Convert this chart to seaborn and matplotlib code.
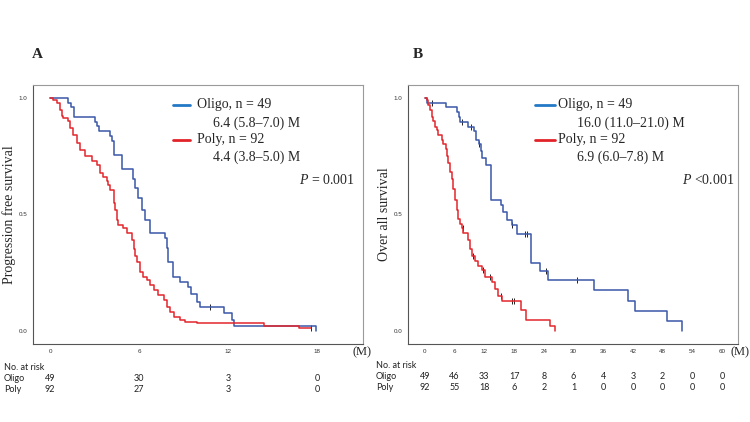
import numpy as np
import matplotlib
matplotlib.use("Agg")
import matplotlib.pyplot as plt
import matplotlib.transforms as mtransforms
import seaborn as sns

# Panel A: progression free survival (months, survival fraction)
pfs_oligo_t = [0, 1.2, 1.4, 1.6, 3.0, 3.15, 3.3, 4.05, 4.15, 4.3, 4.85, 5.6, 5.75, 5.95, 6.18,
               6.4, 6.75, 7.75, 7.87, 7.98, 8.3, 8.76, 9.3, 9.5, 9.9, 10.1, 11.7, 12.25, 12.4, 17.95]
pfs_oligo_s = [1.0, 0.98, 0.959, 0.918, 0.898, 0.878, 0.857, 0.837, 0.816, 0.755, 0.694, 0.653, 0.612,
               0.571, 0.52, 0.475, 0.418, 0.398, 0.357, 0.296, 0.23, 0.21, 0.19, 0.16, 0.125, 0.103,
               0.075, 0.045, 0.0204, 0.0]
pfs_poly_t = [0, 0.22, 0.45, 0.68, 0.79, 0.9, 1.24, 1.35, 1.58, 1.8, 2.03, 2.36, 2.81, 3.15, 3.38,
              3.6, 3.83, 3.94, 4.05, 4.28, 4.39, 4.5, 4.61, 4.95, 5.18, 5.51, 5.63, 5.74, 5.85, 6.08,
              6.3, 6.53, 6.75, 6.98, 7.31, 7.65, 7.88, 8.1, 8.33, 8.78, 9.11, 9.9, 14.4, 16.8, 17.6]
pfs_poly_s = [1.0, 0.99, 0.978, 0.946, 0.924, 0.913, 0.902, 0.87, 0.84, 0.806, 0.778, 0.749, 0.727,
              0.71, 0.677, 0.66, 0.645, 0.627, 0.605, 0.548, 0.519, 0.476, 0.455, 0.44, 0.419, 0.39,
              0.35, 0.32, 0.297, 0.254, 0.232, 0.218, 0.196, 0.175, 0.153, 0.132, 0.103, 0.082, 0.06,
              0.046, 0.038, 0.0326, 0.0217, 0.0109, 0.0109]
pfs_oligo_cens = [10.8]
pfs_poly_cens = [17.6]

# Panel B: overall survival
os_oligo_t = [0, 0.34, 4.3, 6.5, 6.8, 7.1, 8.8, 9.9, 10.4, 10.9, 11.3, 11.6, 12.3, 13.4, 15.4,
              15.8, 16.5, 17.5, 18.5, 21.4, 23.3, 24.9, 34.2, 40.9, 42.5, 48.9, 51.9]
os_oligo_s = [1.0, 0.98, 0.959, 0.939, 0.918, 0.898, 0.877, 0.857, 0.82, 0.80, 0.77, 0.742, 0.714,
              0.563, 0.54, 0.51, 0.477, 0.455, 0.416, 0.29, 0.257, 0.218, 0.175, 0.129, 0.085, 0.042, 0.0]
os_poly_t = [0, 0.34, 0.67, 1.0, 1.35, 1.7, 2.0, 2.36, 2.7, 3.37, 3.7, 4.2, 4.4, 4.7, 5.06, 5.4,
             5.7, 6.07, 6.4, 6.74, 7.08, 7.4, 7.75, 8.77, 9.1, 9.44, 10.1, 10.8, 11.5, 12.1, 13.5,
             14.2, 14.8, 15.5, 19.5, 20.5, 25.3, 26.3]
os_poly_s = [1.0, 0.99, 0.97, 0.95, 0.92, 0.9, 0.875, 0.86, 0.84, 0.82, 0.8, 0.78, 0.75, 0.72, 0.68,
             0.65, 0.61, 0.56, 0.52, 0.48, 0.46, 0.44, 0.42, 0.39, 0.35, 0.32, 0.30, 0.28, 0.26, 0.23,
             0.21, 0.18, 0.15, 0.13, 0.089, 0.046, 0.02, 0.0]
os_oligo_cens = [1.5, 7.4, 9.4, 10.9, 17.5, 20.2, 20.7, 24.5, 30.7]
os_poly_cens = [7.6, 9.7, 11.7, 13.1, 15.4, 17.5, 18.0]

# number at risk tables
pfs_risk_t = [0, 6, 12, 18]
pfs_risk_oligo = [49, 30, 3, 0]
pfs_risk_poly = [92, 27, 3, 0]
os_risk_t = [0, 6, 12, 18, 24, 30, 36, 42, 48, 54, 60]
os_risk_oligo = [49, 46, 33, 17, 8, 6, 4, 3, 2, 0, 0]
os_risk_poly = [92, 55, 18, 6, 2, 1, 0, 0, 0, 0, 0]

BLUE = "#3a56a8"
RED = "#e2262c"
LEG_BLUE = "#2379c6"
LEG_RED = "#e3232a"

sns.set_style("white")
plt.rcParams["font.family"] = ["Liberation Serif", "DejaVu Serif"]
plt.rcParams["mathtext.fontset"] = "custom"
plt.rcParams["mathtext.it"] = "Liberation Serif:italic"
plt.rcParams["mathtext.rm"] = "Liberation Serif"


def step_at(t, s, x):
    idx = np.searchsorted(np.asarray(t), x, side="right") - 1
    return np.asarray(s)[idx]


def km_panel(ax, curves, cens, xlim, xticks, ylabel, legend_lines, legend_x, ptext):
    for (t, s, c), ct in zip(curves, cens):
        sns.lineplot(x=t, y=s, ax=ax, drawstyle="steps-post", color=c, lw=1.1,
                     estimator=None, sort=False, legend=False)
        if ct:
            sns.scatterplot(x=ct, y=step_at(t, s, ct), ax=ax, marker="|", s=18,
                            color="#222222", linewidth=0.7, legend=False)
    ax.set_xlim(*xlim)
    ax.set_ylim(-0.056, 1.056)
    ax.set_xticks(xticks)
    ax.set_yticks([0.0, 0.5, 1.0])
    ax.set_yticklabels(["0.0", "0.5", "1.0"])
    ax.tick_params(labelsize=4.5, length=2, width=0.6, pad=2, colors="#333333")
    for lab in ax.get_xticklabels() + ax.get_yticklabels():
        lab.set_family("Liberation Sans")
    ax.set_xlabel("")
    ax.set_ylabel(ylabel, fontsize=10, labelpad=2)
    for side, sp in ax.spines.items():
        sp.set_visible(True)
        sp.set_linewidth(0.8)
        sp.set_color("#555555" if side in ("left", "bottom") else "#9a9a9a")
    # legend drawn by hand to get the two-line entries
    lx0, lx1, tx, tx2 = legend_x
    ys = [0.923, 0.853, 0.788, 0.722]
    ax.plot([lx0, lx1], [ys[0], ys[0]], transform=ax.transAxes, color=LEG_BLUE, lw=2)
    ax.plot([lx0, lx1], [ys[2], ys[2]], transform=ax.transAxes, color=LEG_RED, lw=2)
    ax.text(tx, ys[0], legend_lines[0], transform=ax.transAxes, fontsize=10, va="center")
    ax.text(tx2, ys[1], legend_lines[1], transform=ax.transAxes, fontsize=10, va="center")
    ax.text(tx, ys[2], legend_lines[2], transform=ax.transAxes, fontsize=10, va="center")
    ax.text(tx2, ys[3], legend_lines[3], transform=ax.transAxes, fontsize=10, va="center")
    ax.text(ptext[0], 0.633, ptext[1], transform=ax.transAxes, fontsize=10, va="center", ha="right")


fig = plt.figure(figsize=(7.5, 4.22), dpi=100)
axA = fig.add_axes([0.044, 0.185, 0.44, 0.614])
axB = fig.add_axes([0.544, 0.185, 0.44, 0.614])

km_panel(axA,
         [(pfs_oligo_t, pfs_oligo_s, BLUE), (pfs_poly_t, pfs_poly_s, RED)],
         [pfs_oligo_cens, pfs_poly_cens],
         (-1.15, 21.1), pfs_risk_t, "Progression free survival",
         ["Oligo, n = 49", "6.4 (5.8\u20137.0) M", "Poly, n = 92", "4.4 (3.8\u20135.0) M"],
         (0.424, 0.476, 0.497, 0.545), (0.976, "$P$ = 0.001"))
km_panel(axB,
         [(os_oligo_t, os_oligo_s, BLUE), (os_poly_t, os_poly_s, RED)],
         [os_oligo_cens, os_poly_cens],
         (-3.4, 63.2), os_risk_t, "Over all survival",
         ["Oligo, n = 49", "16.0 (11.0\u201321.0) M", "Poly, n = 92", "6.9 (6.0\u20137.8) M"],
         (0.385, 0.445, 0.455, 0.512), (0.99, "$P$ <0.001"))

# panel letters and unit labels
fig.text(37 / 750, 1 - 54 / 422, "A", fontsize=11, fontweight="bold", ha="center", va="center")
fig.text(418 / 750, 1 - 54 / 422, "B", fontsize=11, fontweight="bold", ha="center", va="center")
fig.text(362 / 750, 1 - 352 / 422, "(M)", fontsize=9, ha="center", va="center")
fig.text(740 / 750, 1 - 352 / 422, "(M)", fontsize=9, ha="center", va="center")

# number at risk
tab_font = dict(fontsize=6.5, family="Lato", color="#222222", va="center")
for ax, rt, ro, rp, x0, rows in [
    (axA, pfs_risk_t, pfs_risk_oligo, pfs_risk_poly, 4 / 750, (0.130, 0.104, 0.076)),
    (axB, os_risk_t, os_risk_oligo, os_risk_poly, 376 / 750, (0.135, 0.107, 0.081)),
]:
    fig.text(x0, rows[0], "No. at risk", ha="left", **tab_font)
    fig.text(x0, rows[1], "Oligo", ha="left", **tab_font)
    fig.text(x0, rows[2], "Poly", ha="left", **tab_font)
    tr = mtransforms.blended_transform_factory(ax.transData, fig.transFigure)
    for xv, a, b in zip(rt, ro, rp):
        ax.text(xv, rows[1], str(a), transform=tr, ha="center", **tab_font)
        ax.text(xv, rows[2], str(b), transform=tr, ha="center", **tab_font)

fig.savefig("out.png", dpi=100)
